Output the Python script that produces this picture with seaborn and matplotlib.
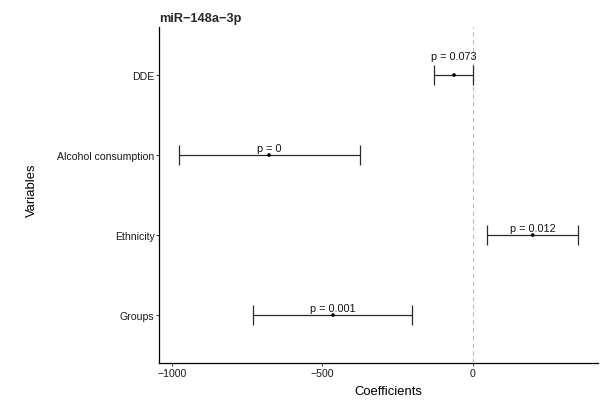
import matplotlib
matplotlib.use("Agg")
import matplotlib.pyplot as plt
import seaborn as sns
import pandas as pd

# Regression estimates with confidence limits (bottom to top)
variables = ["Groups", "Ethnicity", "Alcohol consumption", "DDE"]
coefs = [-465, 200, -678, -62]
lower = [-731, 47, -978, -128]
upper = [-201, 352, -376, 2]
p_labels = ["p = 0.001", "p = 0.012", "p = 0", "p = 0.073"]

df = pd.DataFrame({"variable": variables, "coef": coefs,
                   "lower": lower, "upper": upper, "label": p_labels})

sns.set_theme(style="ticks")
plt.rcParams["font.family"] = ["Liberation Sans", "DejaVu Sans"]

fig = plt.figure(figsize=(6.08, 4.06), dpi=100)
ax = fig.add_axes([0.2615, 0.1034, 0.7225, 0.8276])

ax.axvline(0, color="#bbbbbb", lw=0.8, ls=(0, (4, 3)), zorder=0)

ax.errorbar(df["coef"], df["variable"],
            xerr=[df["coef"] - df["lower"], df["upper"] - df["coef"]],
            fmt="none", ecolor="#2a2a2a", elinewidth=0.9,
            capsize=7.5, capthick=0.9, zorder=2)
sns.scatterplot(data=df, x="coef", y="variable", ax=ax, color="black",
                s=7, edgecolor="none", zorder=3, legend=False)

# labels sit just above the bar; lift them clear of the cap when the
# interval touches the zero line
for _, r in df.iterrows():
    crosses_zero = r["lower"] <= 0 <= r["upper"]
    dy = 11.3 if crosses_zero else 2.7
    ax.annotate(r["label"], (r["coef"], r["variable"]), xytext=(0, dy),
                textcoords="offset points", ha="center", va="baseline",
                fontsize=7.8, color="#111111")

span = max(upper) - min(lower)
ax.set_xlim(min(lower) - 0.05 * span, max(upper) + 0.05 * span)
ax.set_ylim(-0.6, 3.6)
ax.set_xticks([-1000, -500, 0])
ax.set_xticklabels(["\u22121000", "\u2212500", "0"])

for s in ["top", "right"]:
    ax.spines[s].set_visible(False)
for s in ["left", "bottom"]:
    ax.spines[s].set_color("black")
    ax.spines[s].set_linewidth(0.9)
ax.tick_params(axis="both", length=2.5, width=0.7, color="#333333",
               labelsize=7.6, labelcolor="#1a1a1a", pad=0.8)

ax.set_xlabel("Coefficients", fontsize=9.4, color="black")
ax.set_ylabel("Variables", fontsize=9.4, color="black")
ax.xaxis.set_label_coords(0.522, -0.064)
ax.yaxis.set_label_coords(-0.276, 0.518)
ax.set_title("miR\u2212148a\u22123p", loc="left", fontsize=9.2,
             fontweight="bold", pad=4.5, x=0.0)

fig.savefig("out.png", dpi=100, facecolor="white")
